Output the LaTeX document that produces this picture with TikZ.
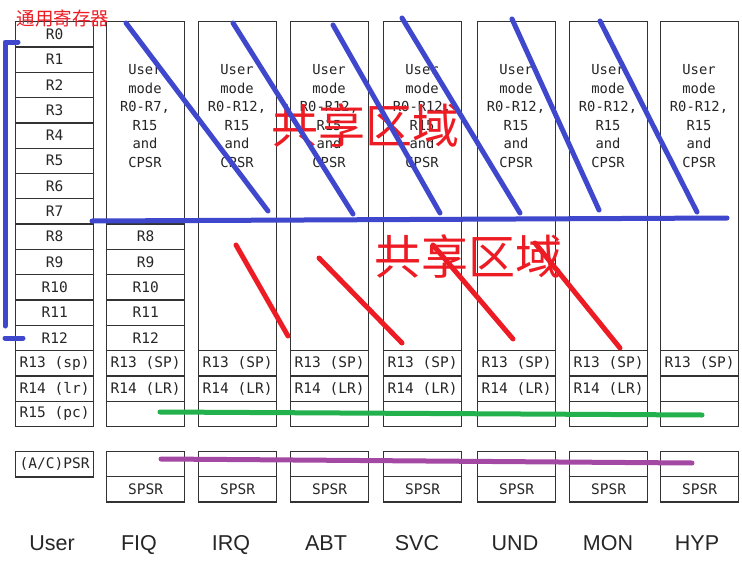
\documentclass[tikz,border=0pt]{standalone}
\usepackage{fontspec}
\setmainfont{Liberation Sans}
\newfontfamily\regfont{DejaVu Sans Mono}
\newfontfamily\cjk{Noto Sans CJK SC}
\definecolor{pblue}{RGB}{63,72,204}
\definecolor{pred}{RGB}{237,28,36}
\definecolor{pgreen}{RGB}{34,177,76}
\definecolor{ppurple}{RGB}{163,73,164}
\tikzset{
  cell/.style={draw=black!80, line width=1.3pt, fill=white, minimum width=78pt,
    minimum height=25.3pt, inner sep=0pt, anchor=north west, text=black!85,
    font=\regfont\fontsize{14.5}{16}\selectfont},
  bigtext/.style={align=center, inner sep=0pt, text=black!85,
    font=\regfont\fontsize{13.8}{18.5}\selectfont},
  modelabel/.style={anchor=base, inner sep=0pt, text=black!85,
    font=\fontsize{21.5}{24}\selectfont},
  bluepen/.style={draw=pblue, line width=5pt, line cap=round, line join=round},
  redpen/.style={draw=pred, line width=5pt, line cap=round},
  greenpen/.style={draw=pgreen, line width=5pt, line cap=round},
  purplepen/.style={draw=ppurple, line width=5pt, line cap=round},
  cjklabel/.style={inner sep=0pt, text=pred},
}
\begin{document}
\begin{tikzpicture}[x=1pt,y=-1pt]
\fill[white] (0,0) rectangle (742,562);
\useasboundingbox (0,0) rectangle (742,562);

% User column
\foreach \i/\t in {0/R0,1/R1,2/R2,3/R3,4/R4,5/R5,6/R6,7/R7,8/R8,9/R9,10/R10,11/R11,12/R12,13/R13 (sp),14/R14 (lr),15/R15 (pc)} {
  \node[cell] (u\i) at (15,{21+\i*25.3}) {\t};
}
\node[cell] (upsr) at (15,451) {(A/C)PSR};

% FIQ column
\node[cell, minimum height=202.4pt] (bigf) at (106,21) {};
\node[bigtext] (txtf) at (145,116) {User\\mode\\R0-R7,\\R15\\and\\CPSR};
\foreach \i in {8,...,12} {
  \node[cell] (f\i) at (106,{21+\i*25.3}) {R\i};
}
\node[cell] (f13) at (106,{21+13*25.3}) {R13 (SP)};
\node[cell] (f14) at (106,{21+14*25.3}) {R14 (LR)};
\node[cell] (f15) at (106,{21+15*25.3}) {};
\node[cell] (fpsr) at (106,451) {};
\node[cell] (fspsr) at (106,476) {SPSR};

% IRQ .. MON columns
\foreach \n/\x in {i/198,a/290,s/383,d/477,m/569} {
  \node[cell, minimum height=328.9pt] (big\n) at (\x,21) {};
  \node[bigtext] (txt\n) at (\x+39,116) {User\\mode\\R0-R12,\\R15\\and\\CPSR};
  \node[cell] (\n13) at (\x,{21+13*25.3}) {R13 (SP)};
  \node[cell] (\n14) at (\x,{21+14*25.3}) {R14 (LR)};
  \node[cell] (\n15) at (\x,{21+15*25.3}) {};
  \node[cell] (psr\n) at (\x,451) {};
  \node[cell] (spsr\n) at (\x,476) {SPSR};
}

% HYP column
\node[cell, minimum height=328.9pt] (bigh) at (660,21) {};
\node[bigtext] (txth) at (699,116) {User\\mode\\R0-R12,\\R15\\and\\CPSR};
\node[cell] (h13) at (660,{21+13*25.3}) {R13 (SP)};
\node[cell] (h14) at (660,{21+14*25.3}) {};
\node[cell] (h15) at (660,{21+15*25.3}) {};
\node[cell] (psrh) at (660,451) {};
\node[cell] (spsrh) at (660,476) {SPSR};

% mode labels
\node[modelabel] (lu) at (52,550) {User};
\node[modelabel] (lf) at (139,550) {FIQ};
\node[modelabel] (li) at (231,550) {IRQ};
\node[modelabel] (la) at (326,550) {ABT};
\node[modelabel] (ls) at (417,550) {SVC};
\node[modelabel] (ld) at (515,550) {UND};
\node[modelabel] (lm) at (608,550) {MON};
\node[modelabel] (lh) at (697,550) {HYP};

% annotations
\node[cjklabel, font=\cjk\fontsize{18.5}{20}\selectfont] (tongyong) at (63,18) {通用寄存器};
\node[cjklabel, font=\cjk\fontsize{47}{50}\selectfont] (shared1) at (365,126) {共享区域};
\node[cjklabel, font=\cjk\fontsize{47}{50}\selectfont] (shared2) at (468,257) {共享区域};

% blue bracket
\draw[bluepen] (18,42) -- (5,42) -- (5,326);
\draw[bluepen] (5,338) -- (23,338);
% blue horizontal
\draw[bluepen] (92,221) -- (727,218);
% blue diagonals
\draw[bluepen] (126,23) -- (268,211);
\draw[bluepen] (233,23) -- (353,214);
\draw[bluepen] (333,25) -- (440,213);
\draw[bluepen] (402,18) -- (520,213);
\draw[bluepen] (512,19) -- (599,210);
\draw[bluepen] (600,21) -- (697,212);

% red diagonals
\draw[redpen] (236,245) -- (288,336);
\draw[redpen] (319,258) -- (402,343);
\draw[redpen] (433,245) -- (513,339);
\draw[redpen] (535,243) -- (620,348);

% green and purple
\draw[greenpen] (160,412) -- (702,415);
\draw[purplepen] (161,459) -- (692,463);
\end{tikzpicture}
\end{document}
